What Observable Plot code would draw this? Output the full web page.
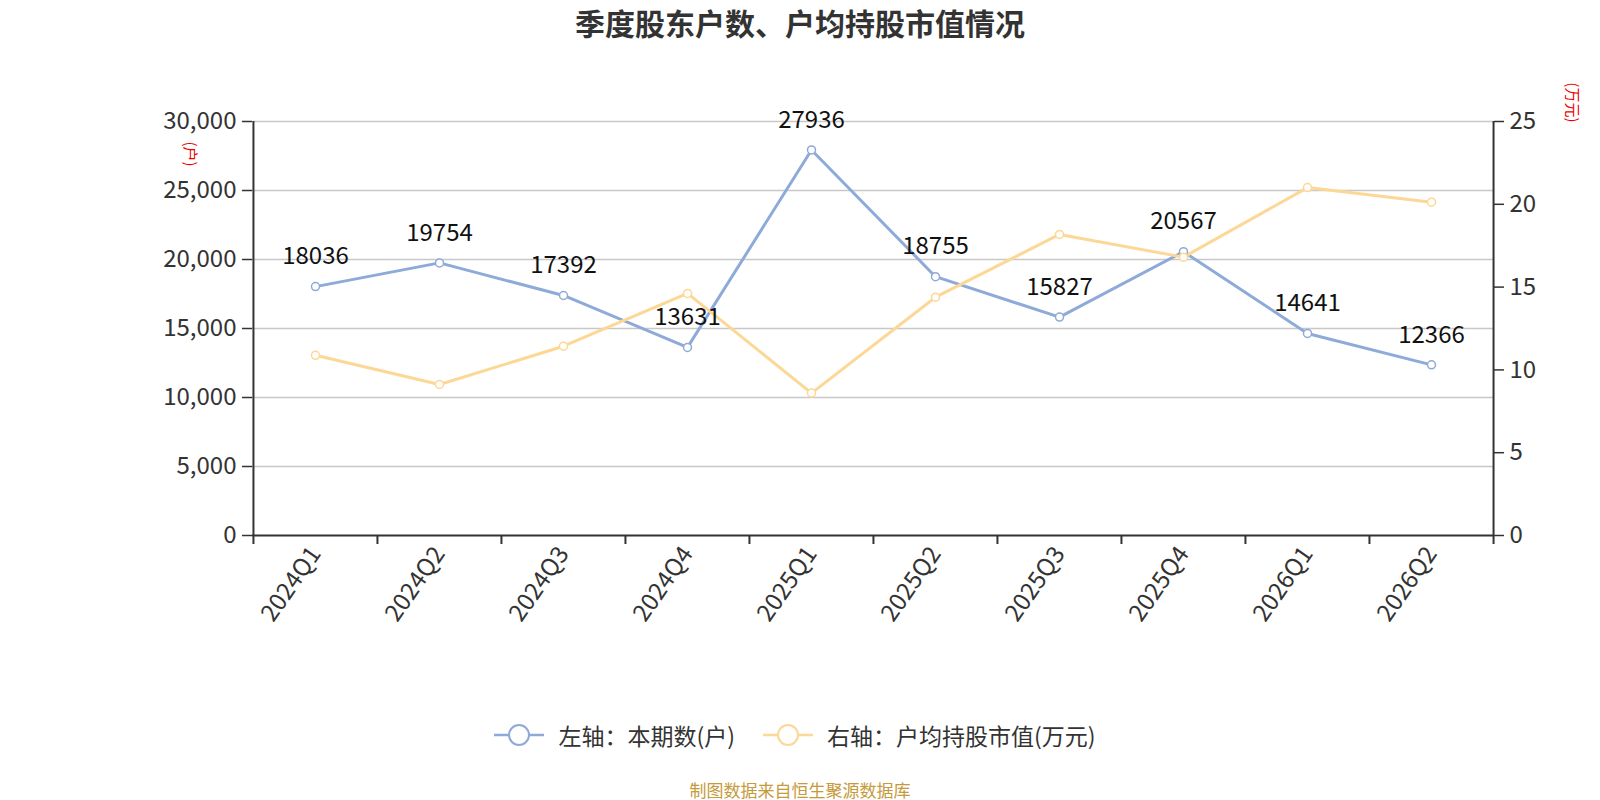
<!DOCTYPE html>
<html>
<head>
<meta charset="utf-8">
<script src="https://cdn.jsdelivr.net/npm/d3@7"></script>
<script src="https://cdn.jsdelivr.net/npm/@observablehq/plot@0.6"></script>
<style>
  body { margin: 0; background: #fff; font-family: "Noto Sans CJK SC", "Noto Sans", sans-serif; }
  #title { height: 50px; line-height: 44px; text-align: center; font-size: 30px; font-weight: bold; color: #333; }
  #chart { height: 665px; }
  #legend { height: 40px; display: flex; justify-content: center; align-items: center; font-size: 23px; color: #333; padding-right: 10px; }
  .item { display: flex; align-items: center; margin: 0 14px; }
  .item svg { margin-right: 14px; }
  #footer { height: 70px; line-height: 70px; text-align: center; font-size: 17px; color: #c49a3a; }
</style>
</head>
<body>
<div id="title">季度股东户数、户均持股市值情况</div>
<div id="chart"></div>
<div id="legend"></div>
<div id="footer">制图数据来自恒生聚源数据库</div>
<script>
const quarters = ["2024Q1","2024Q2","2024Q3","2024Q4","2025Q1","2025Q2","2025Q3","2025Q4","2026Q1","2026Q2"];
const holders = [18036, 19754, 17392, 13631, 27936, 18755, 15827, 20567, 14641, 12366];
const avgValue = [10.88, 9.12, 11.43, 14.62, 8.60, 14.39, 18.18, 16.81, 21.01, 20.13];
const leftTicks = [0, 5000, 10000, 15000, 20000, 25000, 30000];
const rightTicks = [0, 5, 10, 15, 20, 25];
const seriesNames = ["左轴：本期数(户)", "右轴：户均持股市值(万元)"];
const leftUnit = "(户)";
const rightUnit = "(万元)";

const blue = "#8eaad8";
const yellow = "#fdd796";
const RATIO = 30000 / 25;

const W = 1600, H = 665, mL = 252, mR = 107, mT = 71, mB = 180;
const bw = (W - mL - mR) / quarters.length;

const rows = quarters.map((q, i) => ({q, h: holders[i], v: avgValue[i]}));

const font = "Noto Sans CJK SC";
const plot = Plot.plot({
  width: W, height: H,
  marginLeft: mL, marginRight: mR, marginTop: mT, marginBottom: mB,
  style: {fontFamily: font, color: "#333", background: "#fff"},
  x: {type: "band", domain: quarters, padding: 0},
  y: {domain: [0, 30000]},
  marks: [
    Plot.gridY(leftTicks.slice(1), {stroke: "#c8c8c8", strokeOpacity: 1, strokeWidth: 1.5}),
    Plot.ruleX(quarters, {x: d => d, dx: -bw / 2, y1: 0, y2: 0, insetBottom: -9, stroke: "#333", strokeWidth: 2}),
    Plot.ruleX([quarters[quarters.length - 1]], {x: d => d, dx: bw / 2, y1: 0, y2: 0, insetBottom: -9, stroke: "#333", strokeWidth: 2}),
    Plot.ruleX([quarters[0]], {x: d => d, dx: -bw / 2, y1: 0, y2: 30000, stroke: "#333", strokeWidth: 2}),
    Plot.ruleX([quarters[quarters.length - 1]], {x: d => d, dx: bw / 2, y1: 0, y2: 30000, stroke: "#333", strokeWidth: 2}),
    Plot.ruleY([0], {stroke: "#333", strokeWidth: 2}),
    Plot.axisY(leftTicks, {anchor: "left", tickSize: 10, tickPadding: 6, tickFormat: d3.format(","), fontSize: 24, label: null, stroke: "#333", strokeWidth: 1.5, fill: "#333"}),
    Plot.axisY(rightTicks.map(t => t * RATIO), {anchor: "right", tickSize: 10, tickPadding: 6, tickFormat: d => String(Math.round(d / RATIO)), fontSize: 24, label: null, stroke: "#333", strokeWidth: 1.5, fill: "#333"}),
    Plot.axisX({tickSize: 0, tickPadding: 14, tickRotate: -55, fontSize: 24, label: null, fill: "#333"}),
    Plot.line(rows, {x: "q", y: "h", stroke: blue, strokeWidth: 3}),
    Plot.line(rows, {x: "q", y: d => d.v * RATIO, stroke: yellow, strokeWidth: 3}),
    Plot.dot(rows, {x: "q", y: "h", r: 4, fill: "#fff", stroke: blue, strokeWidth: 1.5}),
    Plot.dot(rows, {x: "q", y: d => d.v * RATIO, r: 4, fill: "#fff", stroke: yellow, strokeWidth: 1.5}),
    Plot.text(rows, {x: "q", y: "h", text: d => String(d.h), dy: -30, fontSize: 24, fill: "#111"}),
    Plot.text([leftUnit], {frameAnchor: "top-left", dx: -57, dy: 20, rotate: 90, fontSize: 15, fill: "#e00", text: d => d}),
    Plot.text([rightUnit], {frameAnchor: "top-right", dx: 84, dy: 1, rotate: 90, fontSize: 15, fill: "#e00", text: d => d})
  ]
});
document.getElementById("chart").appendChild(plot);

const legend = document.getElementById("legend");
[[seriesNames[0], blue], [seriesNames[1], yellow]].forEach(([name, c]) => {
  const it = document.createElement("div");
  it.className = "item";
  it.innerHTML = `<svg width="50" height="26"><line x1="0" y1="13" x2="50" y2="13" stroke="${c}" stroke-width="2.5"/><circle cx="25" cy="13" r="10" fill="#fff" stroke="${c}" stroke-width="2"/></svg><span>${name}</span>`;
  legend.appendChild(it);
});
</script>
</body>
</html>
